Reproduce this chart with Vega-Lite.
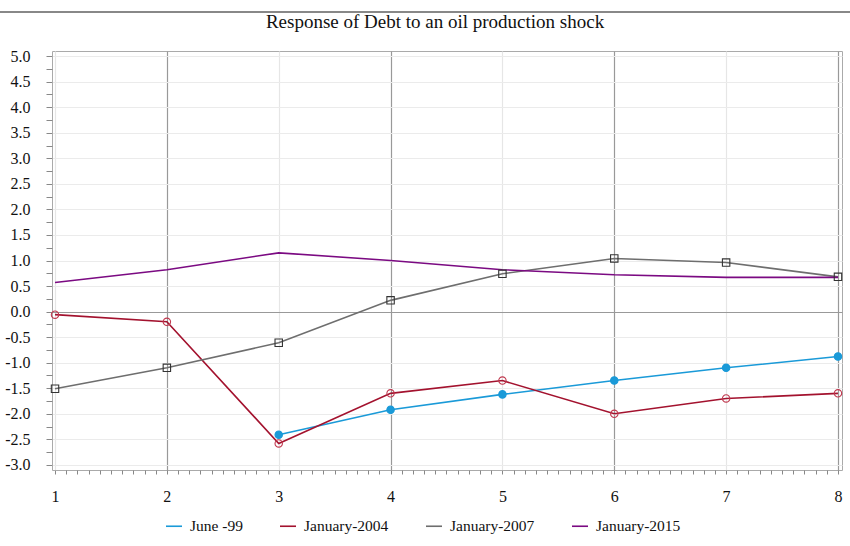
{
  "$schema": "https://vega.github.io/schema/vega-lite/v6.json",
  "width": 790,
  "height": 419,
  "autosize": {"type": "none"},
  "padding": {"left": 52, "top": 51, "right": 8, "bottom": 76},
  "background": "white",
  "title": {"text": "Response of Debt to an oil production shock", "font": "Liberation Serif", "fontSize": 19, "fontWeight": "normal", "color": "#111", "offset": 0, "dy": 21, "dx": -12, "anchor": "middle"},
  "config": {
    "view": {"stroke": "#aaa", "strokeWidth": 1},
    "font": "Liberation Serif"
  },
  "data": {"values": [
    {"series": "June -99", "step": 3, "value": -2.41},
    {"series": "June -99", "step": 4, "value": -1.92},
    {"series": "June -99", "step": 5, "value": -1.62},
    {"series": "June -99", "step": 6, "value": -1.35},
    {"series": "June -99", "step": 7, "value": -1.10},
    {"series": "June -99", "step": 8, "value": -0.88},
    {"series": "January-2004", "step": 1, "value": -0.06},
    {"series": "January-2004", "step": 2, "value": -0.20},
    {"series": "January-2004", "step": 3, "value": -2.58},
    {"series": "January-2004", "step": 4, "value": -1.60},
    {"series": "January-2004", "step": 5, "value": -1.35},
    {"series": "January-2004", "step": 6, "value": -2.00},
    {"series": "January-2004", "step": 7, "value": -1.70},
    {"series": "January-2004", "step": 8, "value": -1.60},
    {"series": "January-2007", "step": 1, "value": -1.51},
    {"series": "January-2007", "step": 2, "value": -1.10},
    {"series": "January-2007", "step": 3, "value": -0.61},
    {"series": "January-2007", "step": 4, "value": 0.22},
    {"series": "January-2007", "step": 5, "value": 0.74},
    {"series": "January-2007", "step": 6, "value": 1.04},
    {"series": "January-2007", "step": 7, "value": 0.96},
    {"series": "January-2007", "step": 8, "value": 0.68},
    {"series": "January-2015", "step": 1, "value": 0.57},
    {"series": "January-2015", "step": 2, "value": 0.82},
    {"series": "January-2015", "step": 3, "value": 1.15},
    {"series": "January-2015", "step": 4, "value": 1.00},
    {"series": "January-2015", "step": 5, "value": 0.82},
    {"series": "January-2015", "step": 6, "value": 0.72},
    {"series": "January-2015", "step": 7, "value": 0.67},
    {"series": "January-2015", "step": 8, "value": 0.67}
  ]},
  "layer": [
    {
      "mark": {"type": "line", "strokeWidth": 1.6},
      "encoding": {
        "x": {"field": "step", "type": "quantitative", "scale": {"domain": [0.973, 8.036], "nice": false, "zero": false},
          "axis": {
            "title": null,
            "domain": false,
            "tickCount": 500,
            "values": [1,1.1,1.2,1.3,1.4,1.5,1.6,1.7,1.8,1.9,2,2.1,2.2,2.3,2.4,2.5,2.6,2.7,2.8,2.9,3,3.1,3.2,3.3,3.4,3.5,3.6,3.7,3.8,3.9,4,4.1,4.2,4.3,4.4,4.5,4.6,4.7,4.8,4.9,5,5.1,5.2,5.3,5.4,5.5,5.6,5.7,5.8,5.9,6,6.1,6.2,6.3,6.4,6.5,6.6,6.7,6.8,6.9,7,7.1,7.2,7.3,7.4,7.5,7.6,7.7,7.8,7.9,8],
            "labelExpr": "abs(datum.value - round(datum.value)) < 0.01 ? format(datum.value, 'd') : ''",
            "labelFont": "Liberation Serif",
            "labelFontSize": 16,
            "labelColor": "#111",
            "labelPadding": 14,
            "labelFlush": false,
            "labelOverlap": false,
            "tickSize": 4,
            "tickColor": "#888",
            "grid": true,
            "gridColor": {"condition": [
              {"test": "abs(datum.value - round(datum.value)) > 0.01", "value": "rgba(0,0,0,0)"},
              {"test": "round(datum.value) % 2 == 0", "value": "#999"}
            ], "value": "#e6e6e6"},
            "gridWidth": 1.2
          }
        },
        "y": {"field": "value", "type": "quantitative", "scale": {"domain": [-3.1, 5.1], "nice": false, "zero": false},
          "axis": {
            "title": null,
            "domain": false,
            "tickCount": 500,
            "values": [-3,-2.75,-2.5,-2.25,-2,-1.75,-1.5,-1.25,-1,-0.75,-0.5,-0.25,0,0.25,0.5,0.75,1,1.25,1.5,1.75,2,2.25,2.5,2.75,3,3.25,3.5,3.75,4,4.25,4.5,4.75,5],
            "labelExpr": "abs(datum.value*2 - round(datum.value*2)) < 0.01 ? (datum.value < 0 ? '-' : '') + format(abs(datum.value), '.1f') : ''",
            "labelFont": "Liberation Serif",
            "labelFontSize": 16,
            "labelColor": "#111",
            "labelPadding": 16,
            "labelOverlap": false,
            "labelFlush": false,
            "tickSize": 6,
            "tickColor": "#888",
            "grid": true,
            "gridColor": {"condition": [
              {"test": "abs(datum.value*2 - round(datum.value*2)) > 0.01", "value": "rgba(0,0,0,0)"},
              {"test": "abs(datum.value) < 0.001", "value": "#999"}
            ], "value": "#ebebeb"},
            "gridWidth": 1.2
          }
        },
        "color": {"field": "series", "type": "nominal",
          "scale": {"domain": ["June -99", "January-2004", "January-2007", "January-2015"], "range": ["#1a9ad8", "#a3122e", "#6e6e6e", "#7b0a82"]},
          "legend": {"title": null, "orient": "none", "legendX": 113, "legendY": 466, "direction": "horizontal", "symbolType": "stroke", "symbolSize": 256, "symbolStrokeWidth": 1.6, "labelFont": "Liberation Serif", "labelFontSize": 15.5, "labelColor": "#111", "labelOffset": 7, "columnPadding": 33}
        }
      }
    },
    {
      "transform": [{"filter": "datum.series != 'January-2015'"}],
      "mark": {"type": "point", "strokeWidth": 1.1, "opacity": 1},
      "encoding": {
        "x": {"field": "step", "type": "quantitative"},
        "y": {"field": "value", "type": "quantitative"},
        "shape": {"field": "series", "type": "nominal", "scale": {"domain": ["June -99", "January-2004", "January-2007"], "range": ["circle", "circle", "square"]}, "legend": null},
        "fill": {"field": "series", "type": "nominal", "scale": {"domain": ["June -99", "January-2004", "January-2007"], "range": ["#1a9ad8", "rgba(255,255,255,0)", "rgba(255,255,255,0)"]}, "legend": null},
        "stroke": {"field": "series", "type": "nominal", "scale": {"domain": ["June -99", "January-2004", "January-2007"], "range": ["#1a9ad8", "#c0394f", "#333333"]}, "legend": null},
        "size": {"value": 55}
      }
    },
    {
      "mark": {"type": "rule", "color": "#888", "strokeWidth": 1.2, "clip": false},
      "encoding": {
        "x": {"datum": 0.5, "type": "quantitative"},
        "x2": {"datum": 8.11},
        "y": {"datum": 5.87, "type": "quantitative"}
      }
    }
  ]
}
